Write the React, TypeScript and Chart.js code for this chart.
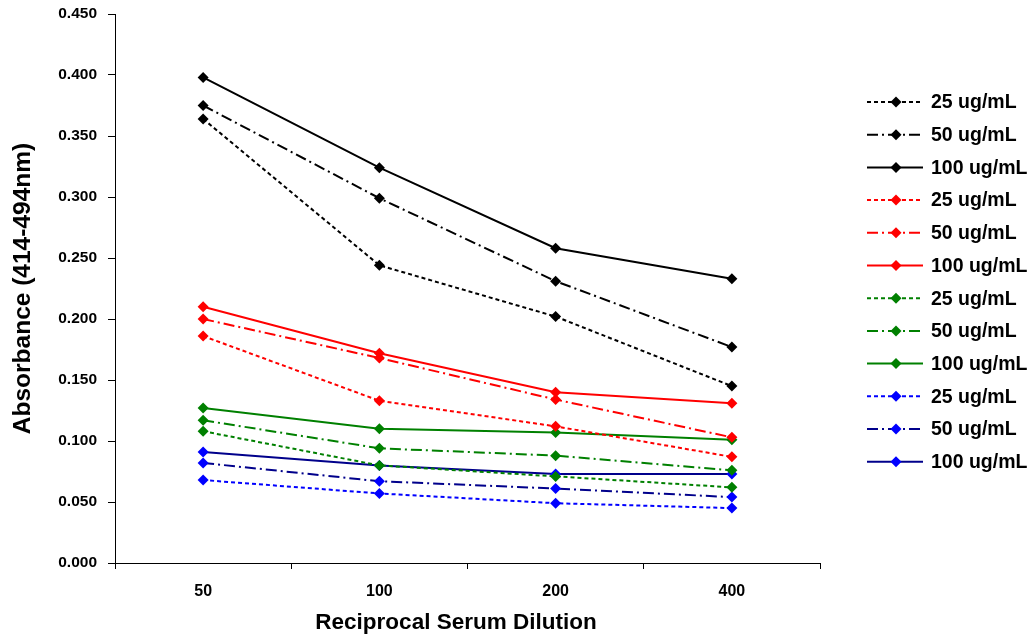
import React, { useEffect, useRef } from "react";
import { Chart, registerables } from "chart.js";

Chart.register(...registerables);

const categories = ["50", "100", "200", "400"];
const seriesLabels = [
  "25 ug/mL", "50 ug/mL", "100 ug/mL",
  "25 ug/mL", "50 ug/mL", "100 ug/mL",
  "25 ug/mL", "50 ug/mL", "100 ug/mL",
  "25 ug/mL", "50 ug/mL", "100 ug/mL",
];
const black25 = [0.364, 0.244, 0.202, 0.145];
const black50 = [0.375, 0.299, 0.231, 0.177];
const black100 = [0.398, 0.324, 0.258, 0.233];
const red25 = [0.186, 0.133, 0.112, 0.087];
const red50 = [0.200, 0.168, 0.134, 0.103];
const red100 = [0.210, 0.172, 0.140, 0.131];
const green25 = [0.108, 0.080, 0.071, 0.062];
const green50 = [0.117, 0.094, 0.088, 0.076];
const green100 = [0.127, 0.110, 0.107, 0.101];
const blue25 = [0.068, 0.057, 0.049, 0.045];
const blue50 = [0.082, 0.067, 0.061, 0.054];
const blue100 = [0.091, 0.080, 0.073, 0.073];

const xTitle = "Reciprocal Serum Dilution";
const yTitle = "Absorbance (414-494nm)";

const seriesValues = [
  black25, black50, black100,
  red25, red50, red100,
  green25, green50, green100,
  blue25, blue50, blue100,
];
const lineColors = [
  "#000000", "#000000", "#000000",
  "#ff0000", "#ff0000", "#ff0000",
  "#008000", "#008000", "#008000",
  "#0000ff", "#00008b", "#00008b",
];
const markerColors = [
  "#000000", "#000000", "#000000",
  "#ff0000", "#ff0000", "#ff0000",
  "#008000", "#008000", "#008000",
  "#0000ff", "#0000ff", "#0000ff",
];
const dashShort = [4, 3];
const dashDot = [11, 4, 2, 4];
const dashes = [
  dashShort, dashDot, [],
  dashShort, dashDot, [],
  dashShort, dashDot, [],
  dashShort, dashDot, [],
];

const FONT = "Arial, 'Liberation Sans', sans-serif";

const legendPlugin = {
  id: "customLegend",
  afterDraw(chart: any) {
    const ctx = chart.ctx;
    ctx.save();
    chart.data.datasets.forEach((ds: any, i: number) => {
      const y = 102 + i * 32.7;
      ctx.beginPath();
      ctx.setLineDash(ds.borderDash || []);
      ctx.strokeStyle = ds.borderColor;
      ctx.lineWidth = 2;
      ctx.moveTo(867, y);
      ctx.lineTo(923, y);
      ctx.stroke();
      ctx.setLineDash([]);
      const r = 5.5;
      ctx.beginPath();
      ctx.moveTo(896, y - r);
      ctx.lineTo(896 + r, y);
      ctx.lineTo(896, y + r);
      ctx.lineTo(896 - r, y);
      ctx.closePath();
      ctx.fillStyle = ds.pointBackgroundColor;
      ctx.fill();
      ctx.fillStyle = "#000";
      ctx.font = `bold 19.5px ${FONT}`;
      ctx.textAlign = "left";
      ctx.textBaseline = "middle";
      ctx.fillText(ds.label, 931, y + 1);
    });
    // x-axis title (slightly left of the plot centre, as in the original)
    ctx.font = `bold 22.5px ${FONT}`;
    ctx.textAlign = "center";
    ctx.textBaseline = "middle";
    ctx.fillStyle = "#000";
    ctx.fillText(xTitle, 456, 623);
    ctx.restore();
  },
};

export default function App() {
  const ref = useRef<HTMLCanvasElement | null>(null);
  useEffect(() => {
    if (!ref.current) return;
    const chart = new Chart(ref.current, {
      type: "line",
      data: {
        labels: categories,
        datasets: seriesValues.map((vals, i) => ({
          label: seriesLabels[i],
          data: vals,
          borderColor: lineColors[i],
          backgroundColor: markerColors[i],
          pointBackgroundColor: markerColors[i],
          pointBorderColor: markerColors[i],
          pointStyle: "rectRot",
          pointRadius: 5.5,
          pointBorderWidth: 0,
          borderWidth: 2,
          borderDash: dashes[i],
          tension: 0,
          fill: false,
        })),
      },
      options: {
        animation: false,
        responsive: false,
        maintainAspectRatio: false,
        layout: { padding: { left: 0, top: 14, right: 216, bottom: 0 } },
        plugins: {
          legend: { display: false },
          tooltip: { enabled: false },
        },
        scales: {
          x: {
            type: "category",
            offset: true,
            afterFit: (scale: any) => {
              scale.height = 78;
              scale.paddingLeft = 0;
              scale.paddingRight = 0;
            },
            grid: {
              offset: true,
              drawOnChartArea: false,
              drawTicks: true,
              tickLength: 6,
              color: "#000",
            },
            border: { color: "#000", width: 1 },
            ticks: {
              color: "#000",
              padding: 13,
              font: { family: FONT, size: 16, weight: "bold" },
            },
            title: { display: false },
          },
          y: {
            min: 0,
            max: 0.45,
            afterFit: (scale: any) => {
              scale.width = 115;
              scale.paddingTop = 0;
              scale.paddingBottom = 0;
            },
            grid: {
              drawOnChartArea: false,
              drawTicks: true,
              tickLength: 7,
              color: "#000",
            },
            border: { color: "#000", width: 1 },
            ticks: {
              stepSize: 0.05,
              color: "#000",
              padding: 11,
              font: { family: FONT, size: 15.5, weight: "bold" },
              callback: (v: any) => Number(v).toFixed(3),
            },
            title: {
              display: true,
              text: yTitle,
              color: "#000",
              padding: { top: 9, bottom: 0 },
              font: { family: FONT, size: 24.5, weight: "bold" },
            },
          },
        },
      },
      plugins: [legendPlugin],
    } as any);
    return () => chart.destroy();
  }, []);
  return (
    <div style={{ position: "fixed", left: 0, top: 0, width: 1036, height: 641, background: "#fff" }}>
      <canvas ref={ref} width={1036} height={641} style={{ width: 1036, height: 641, display: "block" }} />
    </div>
  );
}
